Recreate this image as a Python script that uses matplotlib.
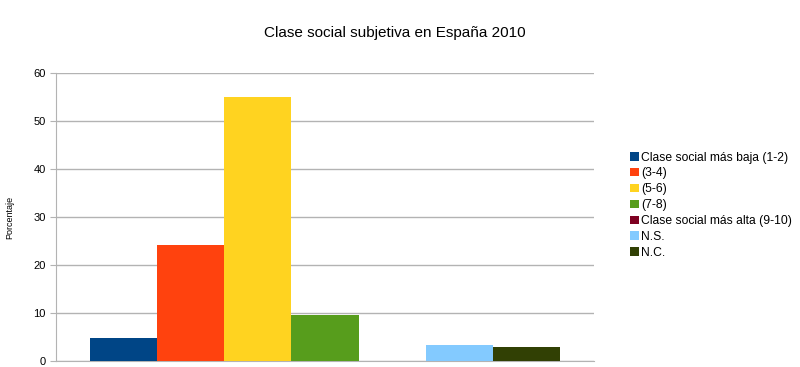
import matplotlib
matplotlib.use("Agg")
import matplotlib.pyplot as plt
from matplotlib.patches import Patch

plt.rcParams['font.family'] = ['Liberation Sans', 'DejaVu Sans']

# data
categories = ["Clase social más baja (1-2)", "(3-4)", "(5-6)", "(7-8)",
              "Clase social más alta (9-10)", "N.S.", "N.C."]
values = [4.8, 24.1, 54.9, 9.6, 0.0, 3.3, 2.9]
colors = ["#004586", "#ff420e", "#ffd320", "#579d1c", "#7e0021", "#83caff", "#314004"]
yticks = [0, 10, 20, 30, 40, 50, 60]

fig = plt.figure(figsize=(8.0, 3.67), dpi=100)
ax = fig.add_axes([0.07, 0.0163, 0.6725, 0.785])

for i, (v, c) in enumerate(zip(values, colors)):
    ax.bar(i, v, width=1.0, color=c, zorder=3)

ax.set_xlim(-1, 7)
ax.set_ylim(0, 60)
ax.set_yticks(yticks)
ax.set_xticks([])
ax.yaxis.grid(True, color="#b3b3b3", linewidth=1, zorder=0)
for s in ("top", "right"):
    ax.spines[s].set_visible(False)
for s in ("left", "bottom"):
    ax.spines[s].set_color("#b3b3b3")
ax.tick_params(axis="y", colors="#b3b3b3", labelcolor="black", labelsize=8, length=4)
ax.set_ylabel("Porcentaje", fontsize=6.5, labelpad=14)

fig.text(0.494, 0.91, "Clase social subjetiva en España 2010", ha="center", va="center", fontsize=11)

handles = [Patch(facecolor=c, edgecolor="none") for c in colors]
fig.legend(handles, categories, loc="center left", bbox_to_anchor=(0.78, 0.441),
           frameon=False, fontsize=8.7, handlelength=0.7, handleheight=0.7,
           handletextpad=0.2, labelspacing=0.32, borderpad=0)

fig.savefig("out.png", dpi=100)
